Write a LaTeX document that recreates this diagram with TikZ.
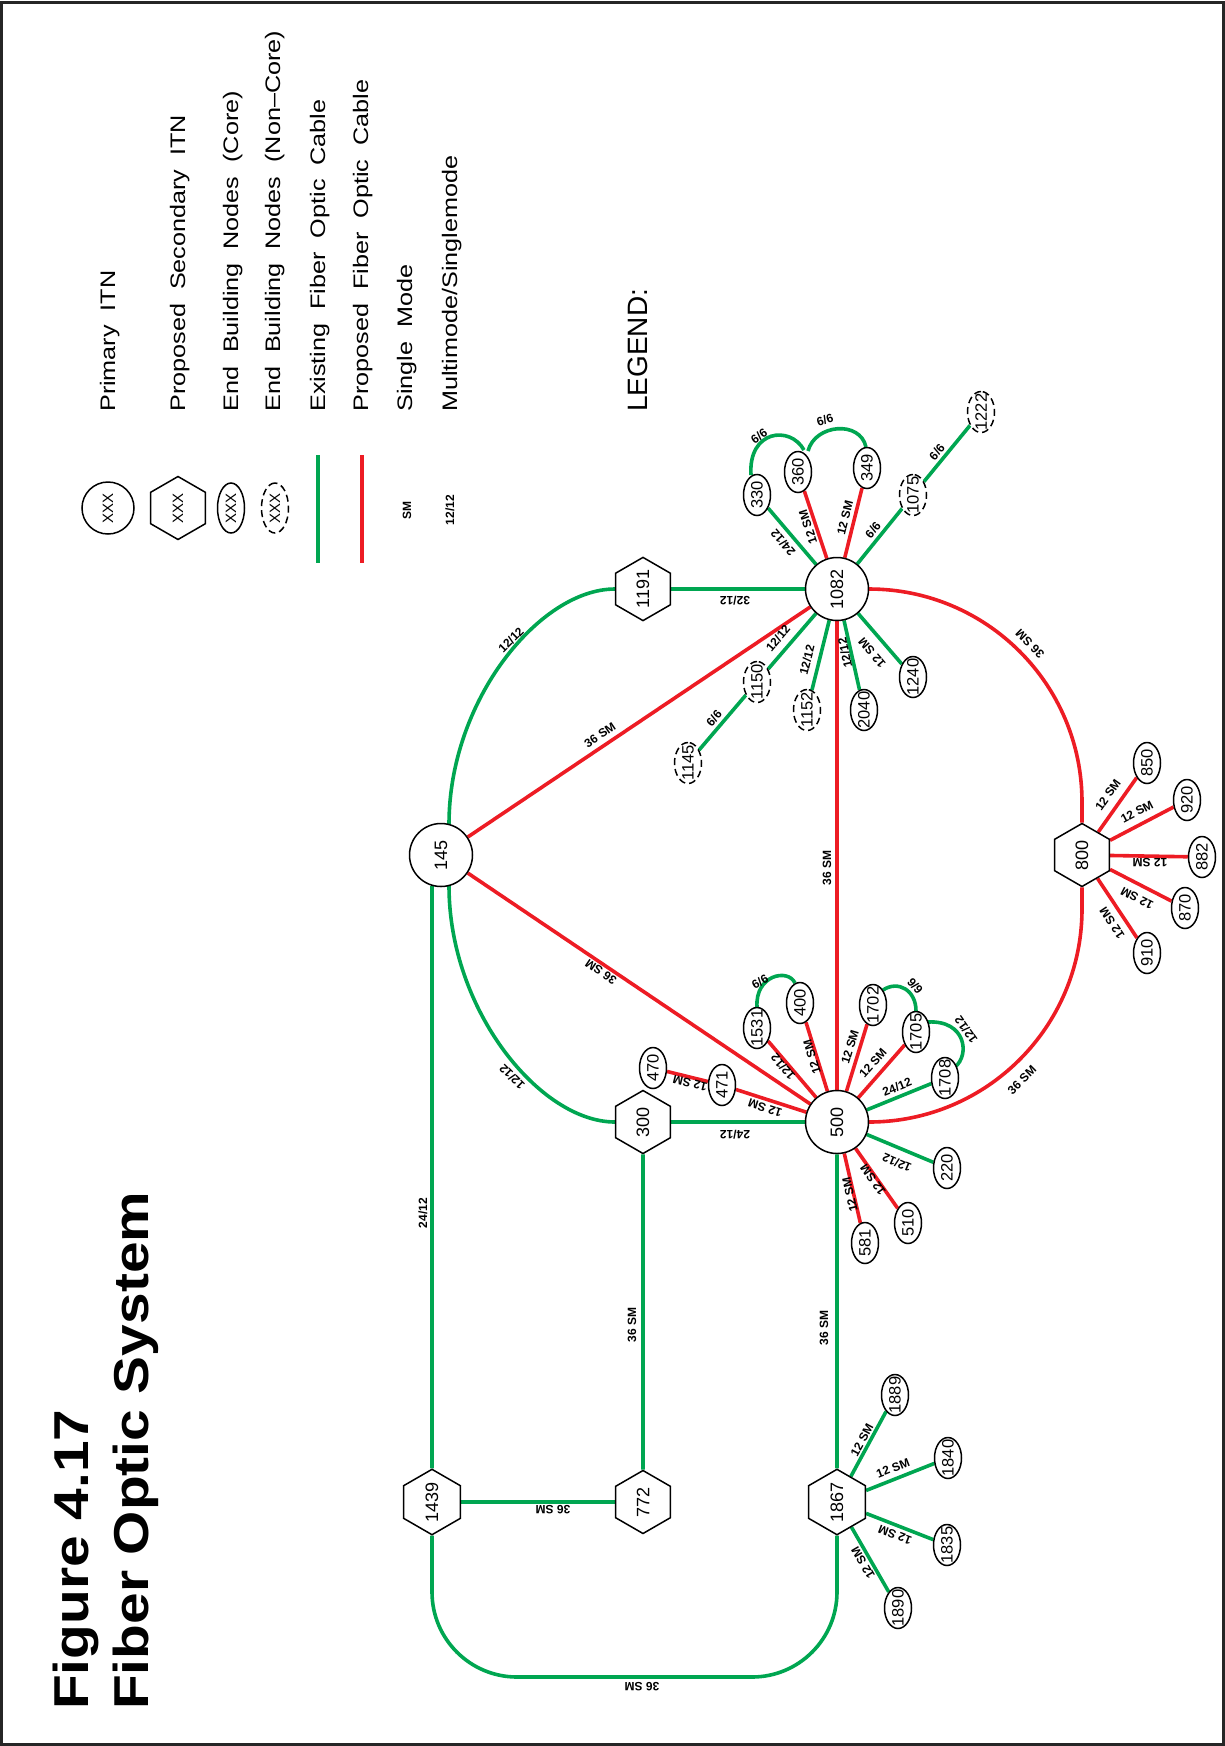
\documentclass[tikz,border=0pt]{standalone}
\usepackage{fontspec}
\setmainfont{Liberation Sans}
\newfontfamily\legendfont[FakeStretch=1.2,WordSpace=2]{Liberation Sans}
\newfontfamily\headfont[FakeStretch=1.16]{Liberation Sans}
\usetikzlibrary{shapes.geometric,calc,backgrounds}
\definecolor{fibgreen}{RGB}{0,166,81}
\definecolor{fibred}{RGB}{237,28,36}
\newcommand\zb[1]{\makebox[0pt]{#1}}
\tikzset{
  hub/.style={circle, draw, line width=1.5pt, minimum size=63pt, inner sep=0pt, fill=white,
    rotate=90, font=\fontsize{18pt}{18pt}\selectfont},
  hexnode/.style={regular polygon, regular polygon sides=6, draw, line width=1.5pt,
    minimum size=63pt, inner sep=0pt, fill=white, rotate=90, font=\fontsize{18pt}{18pt}\selectfont},
  endnode/.style={ellipse, draw, line width=1.5pt, minimum width=41pt, minimum height=27pt,
    inner sep=0pt, fill=white, rotate=90, font=\fontsize{16.5pt}{16.5pt}\selectfont},
  ncnode/.style={endnode, dash pattern=on 7pt off 4pt},
  exist/.style={draw=fibgreen, line width=3.6pt},
  prop/.style={draw=fibred, line width=3.6pt},
  lab/.style={inner sep=0pt, font=\bfseries\fontsize{12pt}{12pt}\selectfont},
  legtext/.style={inner sep=0pt, anchor=base west, rotate=90, font=\legendfont\fontsize{21pt}{21pt}\selectfont},
  headtext/.style={inner sep=0pt, anchor=base west, rotate=90, font=\headfont\bfseries\fontsize{49pt}{49pt}\selectfont},
}
\begin{document}
\begin{tikzpicture}[x=1pt,y=1pt]
\useasboundingbox (0,0) rectangle (1225,-1746);
\draw[line width=2.5pt, black!85] (1.5,-2.5) rectangle (1223.5,-1744.5);

% ---------- title ----------
\node[headtext] (title1) at (88,-1710) {Figure 4.17};
\node[headtext] (title2) at (148,-1710) {Fiber Optic System};

% ---------- legend ----------
\node[inner sep=0pt, anchor=base west, rotate=90, font=\fontsize{28pt}{28pt}\selectfont] (legtitle) at (647,-412) {LEGEND:};
\node[legtext] (leg1) at (115,-412) {Primary ITN};
\node[legtext] (leg2) at (185,-412) {Proposed Secondary ITN};
\node[legtext] (leg3) at (238,-412) {End Building Nodes (Core)};
\node[legtext] (leg4) at (280,-412) {End Building Nodes (Non\textendash Core)};
\node[legtext] (leg5) at (325,-412) {Existing Fiber Optic Cable};
\node[legtext] (leg6) at (368,-412) {Proposed Fiber Optic Cable};
\node[legtext] (leg7) at (412,-412) {Single Mode};
\node[legtext] (leg8) at (457,-412) {Multimode/Singlemode};

\node[hub, minimum size=52pt, font=\fontsize{15pt}{15pt}\selectfont] (symhub) at (108,-508) {XXX};
\node[hexnode, font=\fontsize{15pt}{15pt}\selectfont] (symhex) at (178,-508) {XXX};
\node[endnode, minimum width=50pt, font=\fontsize{15pt}{15pt}\selectfont] (symend) at (231,-508) {\zb{XXX}};
\node[ncnode, minimum width=50pt, font=\fontsize{15pt}{15pt}\selectfont] (symnc) at (275,-508) {\zb{XXX}};
\coordinate (ga) at (318,-455); \coordinate (gb) at (318,-563);
\coordinate (ra) at (362,-455); \coordinate (rb) at (362,-563);
\draw[exist] (ga) -- (gb);
\draw[prop] (ra) -- (rb);
\node[lab, rotate=90] (symsm) at (407,-510) {SM};
\node[lab, rotate=90] (symmm) at (450,-510) {12/12};

% ---------- main nodes ----------
\node[hub] (n145)  at (441,-855)  {145};
\node[hub] (n1082) at (837,-589)  {1082};
\node[hub] (n500)  at (837,-1122) {500};

\node[hexnode] (n1191) at (643,-589)  {1191};
\node[hexnode] (n300)  at (643,-1122) {300};
\node[hexnode] (n1439) at (432,-1502) {1439};
\node[hexnode] (n772)  at (643,-1502) {772};
\node[hexnode] (n1867) at (837,-1502) {1867};
\node[hexnode] (n800)  at (1082,-855) {800};

% end buildings around 1082
\node[endnode] (n330)  at (757,-495) {\zb{330}};
\node[endnode] (n360)  at (798,-472) {\zb{360}};
\node[endnode] (n349)  at (867,-468) {\zb{349}};
\node[endnode] (n1240) at (913,-677) {\zb{1240}};
\node[endnode] (n2040) at (864,-710) {\zb{2040}};
\node[ncnode]  (n1075) at (913,-495) {\zb{1075}};
\node[ncnode]  (n1222) at (981,-412) {\zb{1222}};
\node[ncnode]  (n1150) at (757,-682) {\zb{1150}};
\node[ncnode]  (n1152) at (807,-710) {\zb{1152}};
\node[ncnode]  (n1145) at (688,-763) {\zb{1145}};

% end buildings around 500
\node[endnode] (n470)  at (653,-1068) {\zb{470}};
\node[endnode] (n471)  at (722,-1085) {\zb{471}};
\node[endnode] (n1531) at (757,-1028) {\zb{1531}};
\node[endnode] (n400)  at (800,-1003) {\zb{400}};
\node[endnode] (n1702) at (873,-1005) {\zb{1702}};
\node[endnode] (n1705) at (916,-1032) {\zb{1705}};
\node[endnode] (n1708) at (945,-1078) {\zb{1708}};
\node[endnode] (n220)  at (947,-1168) {\zb{220}};
\node[endnode] (n510)  at (908,-1223) {\zb{510}};
\node[endnode] (n581)  at (865,-1243) {\zb{581}};

% end buildings around 800
\node[endnode] (n850) at (1147,-763) {\zb{850}};
\node[endnode] (n920) at (1187,-800) {\zb{920}};
\node[endnode] (n882) at (1202,-857) {\zb{882}};
\node[endnode] (n870) at (1185,-908) {\zb{870}};
\node[endnode] (n910) at (1147,-953) {\zb{910}};

% end buildings around 1867
\node[endnode] (n1889) at (895,-1395) {\zb{1889}};
\node[endnode] (n1840) at (948,-1458) {\zb{1840}};
\node[endnode] (n1835) at (947,-1545) {\zb{1835}};
\node[endnode] (n1890) at (898,-1608) {\zb{1890}};

% ---------- cables ----------
\begin{pgfonlayer}{background}
% existing (green)
\draw[exist] (n1191) -- (n1082);
\draw[exist] ($(n145)+(8,31)$) .. controls (449,-700) and (540,-589) .. (n1191);
\draw[exist] ($(n145)+(8,-31)$) .. controls (449,-1010) and (540,-1122) .. (n300);
\draw[exist] ($(n145)+(-9,-31)$) -- (n1439);
\draw[exist] (n1439) -- (n772);
\draw[exist] (n1439) -- (432,-1592) arc[start angle=180,end angle=270,radius=85]
   -- (752,-1677) arc[start angle=270,end angle=360,radius=85] -- (n1867);
\draw[exist] (n300) -- (n772);
\draw[exist] (n300) -- (n500);
\draw[exist] (n500) -- (n1867);
\draw[exist] (n1082) -- (n330);
\draw[exist] (n1082) -- (n1075);
\draw[exist] (n1075) -- (n1222);
\draw[exist] (n1082) -- (n1150);
\draw[exist] (n1150) -- (n1145);
\draw[exist] (n1082) -- (n1152);
\draw[exist] (n1082) -- (n2040);
\draw[exist] (n1082) -- (n1240);
\draw[exist] ($(n330)+(-6,20)$) .. controls (748,-430) and (790,-425) .. ($(n360)+(6,22)$);
\draw[exist] ($(n360)+(10,21)$) .. controls (815,-424) and (860,-420) .. ($(n349)+(-1,21)$);
\draw[exist] (n500) -- (n1708);
\draw[exist] (n500) -- (n220);
\draw[exist] ($(n1531)+(0,21)$) .. controls (755,-975) and (788,-968) .. ($(n400)+(-5,20)$);
\draw[exist] ($(n1702)+(10,15)$) .. controls (898,-980) and (916,-990) .. ($(n1705)+(0,21)$);
\draw[exist] ($(n1705)+(12,10)$) .. controls (966,-1020) and (970,-1055) .. ($(n1708)+(10,11)$);
\draw[exist] (n1867) -- (n1889);
\draw[exist] (n1867) -- (n1840);
\draw[exist] (n1867) -- (n1835);
\draw[exist] (n1867) -- (n1890);
% proposed (red)
\draw[prop] (n145) -- (n1082);
\draw[prop] (n145) -- (n500);
\draw[prop] (n1082) -- (n500);
\draw[prop] ($(n1082)+(32,0)$) arc[start angle=90,end angle=0,radius=213] -- (n800);
\draw[prop] ($(n500)+(32,0)$) arc[start angle=270,end angle=360,radius=213] -- (n800);
\draw[prop] (n1082) -- (n360);
\draw[prop] (n1082) -- (n349);
\draw[prop] (n470) -- (n471);
\draw[prop] (n471) -- (n500);
\draw[prop] (n500) -- (n1531);
\draw[prop] (n500) -- (n400);
\draw[prop] (n500) -- (n1702);
\draw[prop] (n500) -- (n1705);
\draw[prop] (n500) -- (n510);
\draw[prop] (n500) -- (n581);
\draw[prop] (n800) -- (n850);
\draw[prop] (n800) -- (n920);
\draw[prop] (n800) -- (n882);
\draw[prop] (n800) -- (n870);
\draw[prop] (n800) -- (n910);
\end{pgfonlayer}

% ---------- cable labels ----------
\node[lab, rotate=180] (l1) at (735,-601) {32/12};
\node[lab, rotate=45]  (l2) at (511,-640) {12/12};
\node[lab, rotate=135] (l3) at (512,-1077) {12/12};
\node[lab, rotate=34]  (l4) at (600,-735) {36 SM};
\node[lab, rotate=146] (l5) at (601,-972) {36 SM};
\node[lab, rotate=90]  (l6) at (423,-1213) {24/12};
\node[lab, rotate=180] (l7) at (553,-1510) {36 SM};
\node[lab, rotate=180] (l8) at (642,-1687) {36 SM};
\node[lab, rotate=90]  (l9) at (632,-1325) {36 SM};
\node[lab, rotate=180] (l10) at (735,-1135) {24/12};
\node[lab, rotate=90]  (l11) at (824,-1328) {36 SM};
\node[lab, rotate=90]  (l12) at (827,-868) {36 SM};
\node[lab, rotate=135] (l13) at (1030,-644) {36 SM};
\node[lab, rotate=45]  (l14) at (1022,-1080) {36 SM};
% around 1082
\node[lab, rotate=131]   (l15) at (783,-543) {24/12};
\node[lab, rotate=108.6] (l16) at (808,-527) {12 SM};
\node[lab, rotate=76]    (l17) at (845,-518) {12 SM};
\node[lab, rotate=50.7]  (l18) at (873,-530) {6/6};
\node[lab, rotate=50.7]  (l19) at (937,-452) {6/6};
\node[lab, rotate=35]    (l20) at (759,-436) {6/6};
\node[lab, rotate=18]    (l21) at (825,-420) {6/6};
\node[lab, rotate=50]    (l22) at (778,-638) {12/12};
\node[lab, rotate=50]    (l23) at (714,-718) {6/6};
\node[lab, rotate=76]    (l24) at (807,-660) {12/12};
\node[lab, rotate=102.5] (l25) at (845,-653) {12/12};
\node[lab, rotate=130.5] (l26) at (872,-653) {12 SM};
% around 500
\node[lab, rotate=166] (l27) at (690,-1083) {12 SM};
\node[lab, rotate=162] (l28) at (765,-1108) {12 SM};
\node[lab, rotate=130] (l29) at (783,-1067) {12/12};
\node[lab, rotate=107] (l30) at (812,-1057) {12 SM};
\node[lab, rotate=73]  (l31) at (850,-1047) {12 SM};
\node[lab, rotate=48.7] (l32) at (873,-1063) {12 SM};
\node[lab, rotate=22]  (l33) at (897,-1087) {24/12};
\node[lab, rotate=157] (l34) at (897,-1163) {12/12};
\node[lab, rotate=125] (l35) at (873,-1180) {12 SM};
\node[lab, rotate=103] (l36) at (850,-1195) {12 SM};
\node[lab, rotate=30]  (l37) at (760,-982) {6/6};
\node[lab, rotate=130] (l38) at (915,-986) {6/6};
\node[lab, rotate=125] (l39) at (966,-1030) {12/12};
% around 800
\node[lab, rotate=54.8]  (l40) at (1108,-795) {12 SM};
\node[lab, rotate=27.6]  (l41) at (1137,-812) {12 SM};
\node[lab, rotate=180]   (l42) at (1150,-863) {12 SM};
\node[lab, rotate=153]   (l43) at (1137,-898) {12 SM};
\node[lab, rotate=123.5] (l44) at (1112,-923) {12 SM};
% around 1867
\node[lab, rotate=61.5] (l45) at (862,-1440) {12 SM};
\node[lab, rotate=21.6] (l46) at (893,-1468) {12 SM};
\node[lab, rotate=159]  (l47) at (895,-1535) {12 SM};
\node[lab, rotate=120]  (l48) at (863,-1563) {12 SM};
\end{tikzpicture}
\end{document}
